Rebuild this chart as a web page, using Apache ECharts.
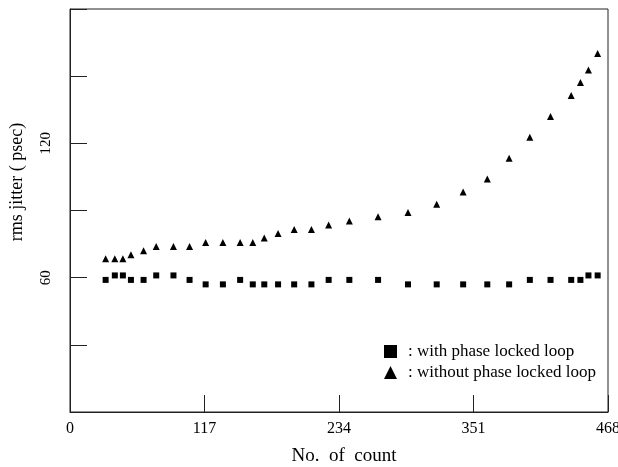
<!DOCTYPE html>
<html>
<head>
<meta charset="utf-8">
<script src="https://cdn.jsdelivr.net/npm/echarts@6/dist/echarts.min.js"></script>
<style>
  html, body { margin: 0; padding: 0; background: #fff; }
  #chart { width: 618px; height: 467px; }
</style>
</head>
<body>
<div id="chart"></div>
<script>
// No. of count (x) shared by both series
const counts = [31, 39, 46, 53, 64, 75, 90, 104, 118, 133, 148, 159, 169, 181, 195,
  210, 225, 243, 268, 294, 319, 342, 363, 382, 400, 418, 436, 444, 451, 459];

// rms jitter (psec)
const withPll = [59, 61, 61, 59, 59, 61, 61, 59, 57, 57, 59, 57, 57, 57, 57,
  57, 59, 59, 59, 57, 57, 57, 57, 57, 59, 59, 59, 59, 61, 61];
const withoutPll = [68.5, 68.5, 68.5, 70.2, 72, 73.9, 73.9, 73.9, 75.7, 75.7, 75.7, 75.7, 77.7, 79.7, 81.5,
  81.5, 83.5, 85.3, 87.2, 89.1, 92.8, 98.3, 104.1, 113.3, 122.7, 132, 141.4, 147.2, 152.7, 160.1];

const yLabelsShown = [60, 120];

const font = "Liberation Serif";
const ink = "#222";

const chartDom = document.getElementById("chart");
const chart = echarts.init(chartDom, null, { renderer: "canvas" });

const option = {
  animation: false,
  textStyle: { fontFamily: font, color: "#000" },
  grid: {
    left: 70,
    top: 9,
    right: 10,
    bottom: 55,
    containLabel: false,
    outerBoundsMode: "none",
    show: true,
    borderColor: ink,
    borderWidth: 1,
  },
  legend: {
    orient: "vertical",
    left: 384,
    top: 343,
    padding: 0,
    itemWidth: 13,
    itemHeight: 13,
    itemGap: 4,
    itemStyle: { opacity: 1 },
    textStyle: {
      fontFamily: font,
      fontSize: 17,
      lineHeight: 17,
      color: "#000",
      padding: [0, 0, 0, 6],
    },
    data: [
      { name: ": with phase locked loop", icon: "rect" },
      { name: ": without phase locked loop", icon: "triangle" },
    ],
  },
  xAxis: {
    type: "value",
    min: 0,
    max: 468,
    interval: 117,
    name: "No.  of  count",
    nameLocation: "middle",
    nameGap: 35,
    nameTextStyle: { fontFamily: font, fontSize: 19, color: "#000", padding: [0, 0, 0, 10] },
    axisLine: { show: true, lineStyle: { color: ink, width: 1 } },
    axisTick: { show: true, inside: true, length: 17, lineStyle: { color: ink } },
    axisLabel: { fontFamily: font, fontSize: 16, color: "#000", margin: 9 },
    splitLine: { show: false },
  },
  yAxis: {
    type: "value",
    min: 0,
    max: 180,
    interval: 30,
    name: "rms jitter ( psec)",
    nameLocation: "middle",
    nameGap: 44,
    nameTextStyle: { fontFamily: font, fontSize: 18, color: "#000", padding: [0, 0, 0, 57] },
    axisLine: { show: true, lineStyle: { color: ink, width: 1 } },
    axisTick: { show: true, inside: true, length: 17, lineStyle: { color: ink } },
    axisLabel: {
      fontFamily: font,
      fontSize: 15,
      color: "#000",
      rotate: 90,
      margin: 16,
      formatter: (v) => (yLabelsShown.includes(v) ? String(v) : ""),
    },
    splitLine: { show: false },
  },
  series: [
    {
      name: ": with phase locked loop",
      type: "scatter",
      symbol: "rect",
      symbolSize: 6,
      itemStyle: { color: "#000", opacity: 1 },
      data: counts.map((c, i) => [c, withPll[i]]),
    },
    {
      name: ": without phase locked loop",
      type: "scatter",
      symbol: "triangle",
      symbolSize: 7,
      itemStyle: { color: "#000", opacity: 1 },
      data: counts.map((c, i) => [c, withoutPll[i]]),
    },
  ],
};

option && chart.setOption(option);
</script>
</body>
</html>
